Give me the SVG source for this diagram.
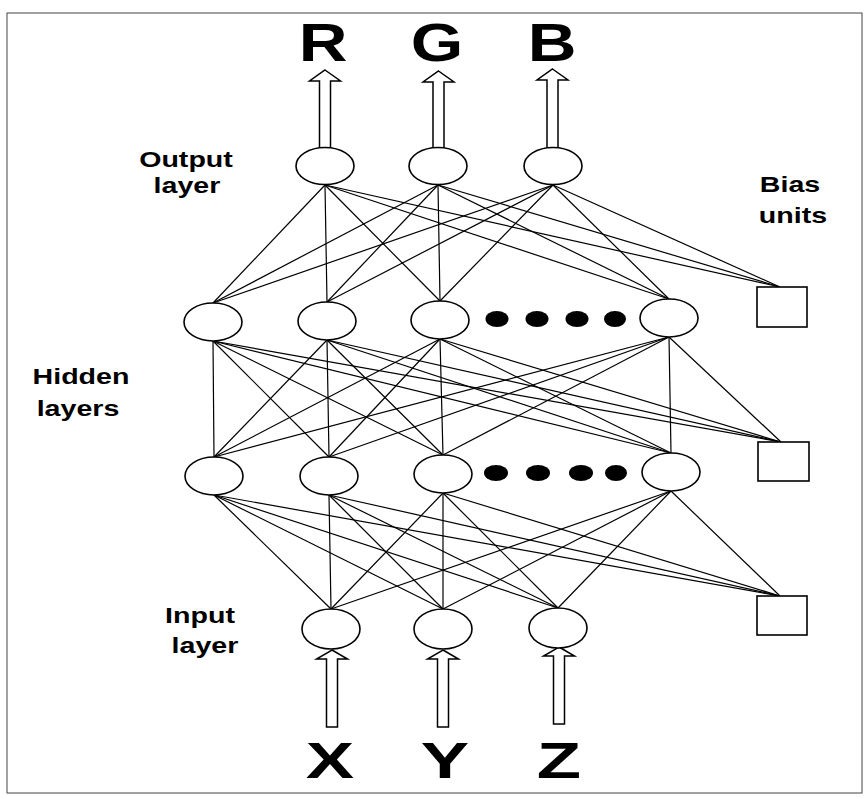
<svg xmlns="http://www.w3.org/2000/svg" width="868" height="799" viewBox="0 0 868 799">
<defs>
<style>
.frame{fill:none;stroke:#444;stroke-width:1}
.node{fill:#fff;stroke:#000;stroke-width:1.6}
.dot{fill:#000}
.bias{fill:#fff;stroke:#000;stroke-width:1.6}
.arrow{fill:#fff;stroke:#000;stroke-width:1.5;stroke-linejoin:miter}
.conn line{stroke:#000;stroke-width:1.2}
.lbl{font-family:"Liberation Sans",Arial,sans-serif;font-weight:bold;font-size:22px;text-anchor:middle;fill:#000}
.big{font-family:"Liberation Sans",Arial,sans-serif;font-weight:bold;text-anchor:middle;fill:#000}
</style>
</defs>
<rect width="868" height="799" fill="#fff"/>
<rect class="frame" x="7" y="13" width="855" height="780"/>

<g id="connectors" class="conn">
<!-- input -> hidden2 -->
<line x1="331" y1="609" x2="214" y2="495"/><line x1="331" y1="609" x2="329" y2="495"/><line x1="331" y1="609" x2="443" y2="493"/><line x1="331" y1="609" x2="671" y2="491"/>
<line x1="443" y1="609" x2="214" y2="495"/><line x1="443" y1="609" x2="329" y2="495"/><line x1="443" y1="609" x2="443" y2="493"/><line x1="443" y1="609" x2="671" y2="491"/>
<line x1="558" y1="608" x2="214" y2="495"/><line x1="558" y1="608" x2="329" y2="495"/><line x1="558" y1="608" x2="443" y2="493"/><line x1="558" y1="608" x2="671" y2="491"/>
<!-- bias3 -> hidden2 -->
<line x1="780" y1="596" x2="214" y2="495"/><line x1="780" y1="596" x2="329" y2="495"/><line x1="780" y1="596" x2="443" y2="493"/><line x1="780" y1="596" x2="671" y2="491"/>
<!-- hidden2 -> hidden1 -->
<line x1="214" y1="457" x2="213" y2="341"/><line x1="214" y1="457" x2="327" y2="340"/><line x1="214" y1="457" x2="440" y2="339"/><line x1="214" y1="457" x2="669" y2="337"/>
<line x1="329" y1="457" x2="213" y2="341"/><line x1="329" y1="457" x2="327" y2="340"/><line x1="329" y1="457" x2="440" y2="339"/><line x1="329" y1="457" x2="669" y2="337"/>
<line x1="443" y1="455" x2="213" y2="341"/><line x1="443" y1="455" x2="327" y2="340"/><line x1="443" y1="455" x2="440" y2="339"/><line x1="443" y1="455" x2="669" y2="337"/>
<line x1="671" y1="453" x2="213" y2="341"/><line x1="671" y1="453" x2="327" y2="340"/><line x1="671" y1="453" x2="440" y2="339"/><line x1="671" y1="453" x2="669" y2="337"/>
<!-- bias2 -> hidden1 -->
<line x1="781" y1="442" x2="213" y2="341"/><line x1="781" y1="442" x2="327" y2="340"/><line x1="781" y1="442" x2="440" y2="339"/><line x1="781" y1="442" x2="669" y2="337"/>
<!-- hidden1 -> output -->
<line x1="213" y1="303" x2="325" y2="185"/><line x1="213" y1="303" x2="438" y2="185"/><line x1="213" y1="303" x2="553" y2="185"/>
<line x1="327" y1="302" x2="325" y2="185"/><line x1="327" y1="302" x2="438" y2="185"/><line x1="327" y1="302" x2="553" y2="185"/>
<line x1="440" y1="301" x2="325" y2="185"/><line x1="440" y1="301" x2="438" y2="185"/><line x1="440" y1="301" x2="553" y2="185"/>
<line x1="669" y1="299" x2="325" y2="185"/><line x1="669" y1="299" x2="438" y2="185"/><line x1="669" y1="299" x2="553" y2="185"/>
<!-- bias1 -> output -->
<line x1="780" y1="287" x2="325" y2="185"/><line x1="780" y1="287" x2="438" y2="185"/><line x1="780" y1="287" x2="553" y2="185"/>
</g>

<g id="arrows">
<polygon class="arrow" points="325,70 340.5,81 330.5,81 330.5,148 319.5,148 319.5,81 309.5,81"/>
<polygon class="arrow" points="438.5,71 454,82 444,82 444,148 433,148 433,82 423,82"/>
<polygon class="arrow" points="552.5,69 568,80 558,80 558,149 547,149 547,80 537,80"/>
<polygon class="arrow" points="332,650 347.5,659 337.5,659 337.5,727 326.5,727 326.5,659 316.5,659"/>
<polygon class="arrow" points="443,650 458.5,659 448.5,659 448.5,727 437.5,727 437.5,659 427.5,659"/>
<polygon class="arrow" points="559,647 574.5,656 564.5,656 564.5,724 553.5,724 553.5,656 543.5,656"/>
</g>

<g id="output-layer">
<g id="out-R"><ellipse class="node" cx="325" cy="166" rx="29" ry="18.5"/></g>
<g id="out-G"><ellipse class="node" cx="438" cy="166" rx="29" ry="18.5"/></g>
<g id="out-B"><ellipse class="node" cx="553" cy="166" rx="29" ry="18.5"/></g>
</g>

<g id="hidden-layer-1">
<g id="h1-1"><ellipse class="node" cx="213" cy="322" rx="29" ry="19"/></g>
<g id="h1-2"><ellipse class="node" cx="327" cy="321" rx="29" ry="19"/></g>
<g id="h1-3"><ellipse class="node" cx="440" cy="320" rx="29" ry="19"/></g>
<g id="h1-dots">
<ellipse class="dot" cx="497" cy="319" rx="11.5" ry="8"/><ellipse class="dot" cx="537" cy="319" rx="11.5" ry="8"/><ellipse class="dot" cx="577" cy="319" rx="11.5" ry="8"/><ellipse class="dot" cx="615" cy="319" rx="11" ry="8"/>
</g>
<g id="h1-n"><ellipse class="node" cx="669" cy="318" rx="29" ry="19"/></g>
</g>

<g id="hidden-layer-2">
<g id="h2-1"><ellipse class="node" cx="214" cy="476" rx="29" ry="19"/></g>
<g id="h2-2"><ellipse class="node" cx="329" cy="476" rx="29" ry="19"/></g>
<g id="h2-3"><ellipse class="node" cx="443" cy="474" rx="29" ry="19"/></g>
<g id="h2-dots">
<ellipse class="dot" cx="496" cy="473" rx="12" ry="8"/><ellipse class="dot" cx="538" cy="473" rx="12" ry="8"/><ellipse class="dot" cx="581" cy="473" rx="12" ry="8"/><ellipse class="dot" cx="616" cy="473" rx="11" ry="8"/>
</g>
<g id="h2-n"><ellipse class="node" cx="671" cy="472" rx="29" ry="19"/></g>
</g>

<g id="input-layer">
<g id="in-X"><ellipse class="node" cx="331" cy="629" rx="29" ry="20"/></g>
<g id="in-Y"><ellipse class="node" cx="443" cy="629" rx="29" ry="20"/></g>
<g id="in-Z"><ellipse class="node" cx="558" cy="628" rx="29" ry="20"/></g>
</g>

<g id="bias-units">
<g id="bias-1"><rect class="bias" x="757" y="287" width="50" height="40"/></g>
<g id="bias-2"><rect class="bias" x="758" y="442" width="51" height="39"/></g>
<g id="bias-3"><rect class="bias" x="757" y="596" width="50" height="39"/></g>
</g>

<g id="labels">
<text class="big" font-size="54" transform="translate(323,61) scale(1.25,1)">R</text>
<text class="big" font-size="54" transform="translate(437,61) scale(1.25,1)">G</text>
<text class="big" font-size="54" transform="translate(552,61) scale(1.25,1)">B</text>
<text class="big" font-size="50" transform="translate(330,778) scale(1.45,1)">X</text>
<text class="big" font-size="50" transform="translate(445,778) scale(1.45,1)">Y</text>
<text class="big" font-size="50" transform="translate(559,778) scale(1.45,1)">Z</text>
<text class="lbl" transform="translate(186,167) scale(1.3,1)">Output</text>
<text class="lbl" transform="translate(187,193) scale(1.3,1)">layer</text>
<text class="lbl" transform="translate(790,192) scale(1.3,1)">Bias</text>
<text class="lbl" transform="translate(793,223) scale(1.3,1)">units</text>
<text class="lbl" transform="translate(81,384) scale(1.3,1)">Hidden</text>
<text class="lbl" transform="translate(78,416) scale(1.3,1)">layers</text>
<text class="lbl" transform="translate(200,623) scale(1.3,1)">Input</text>
<text class="lbl" transform="translate(205,653) scale(1.3,1)">layer</text>
</g>
</svg>
